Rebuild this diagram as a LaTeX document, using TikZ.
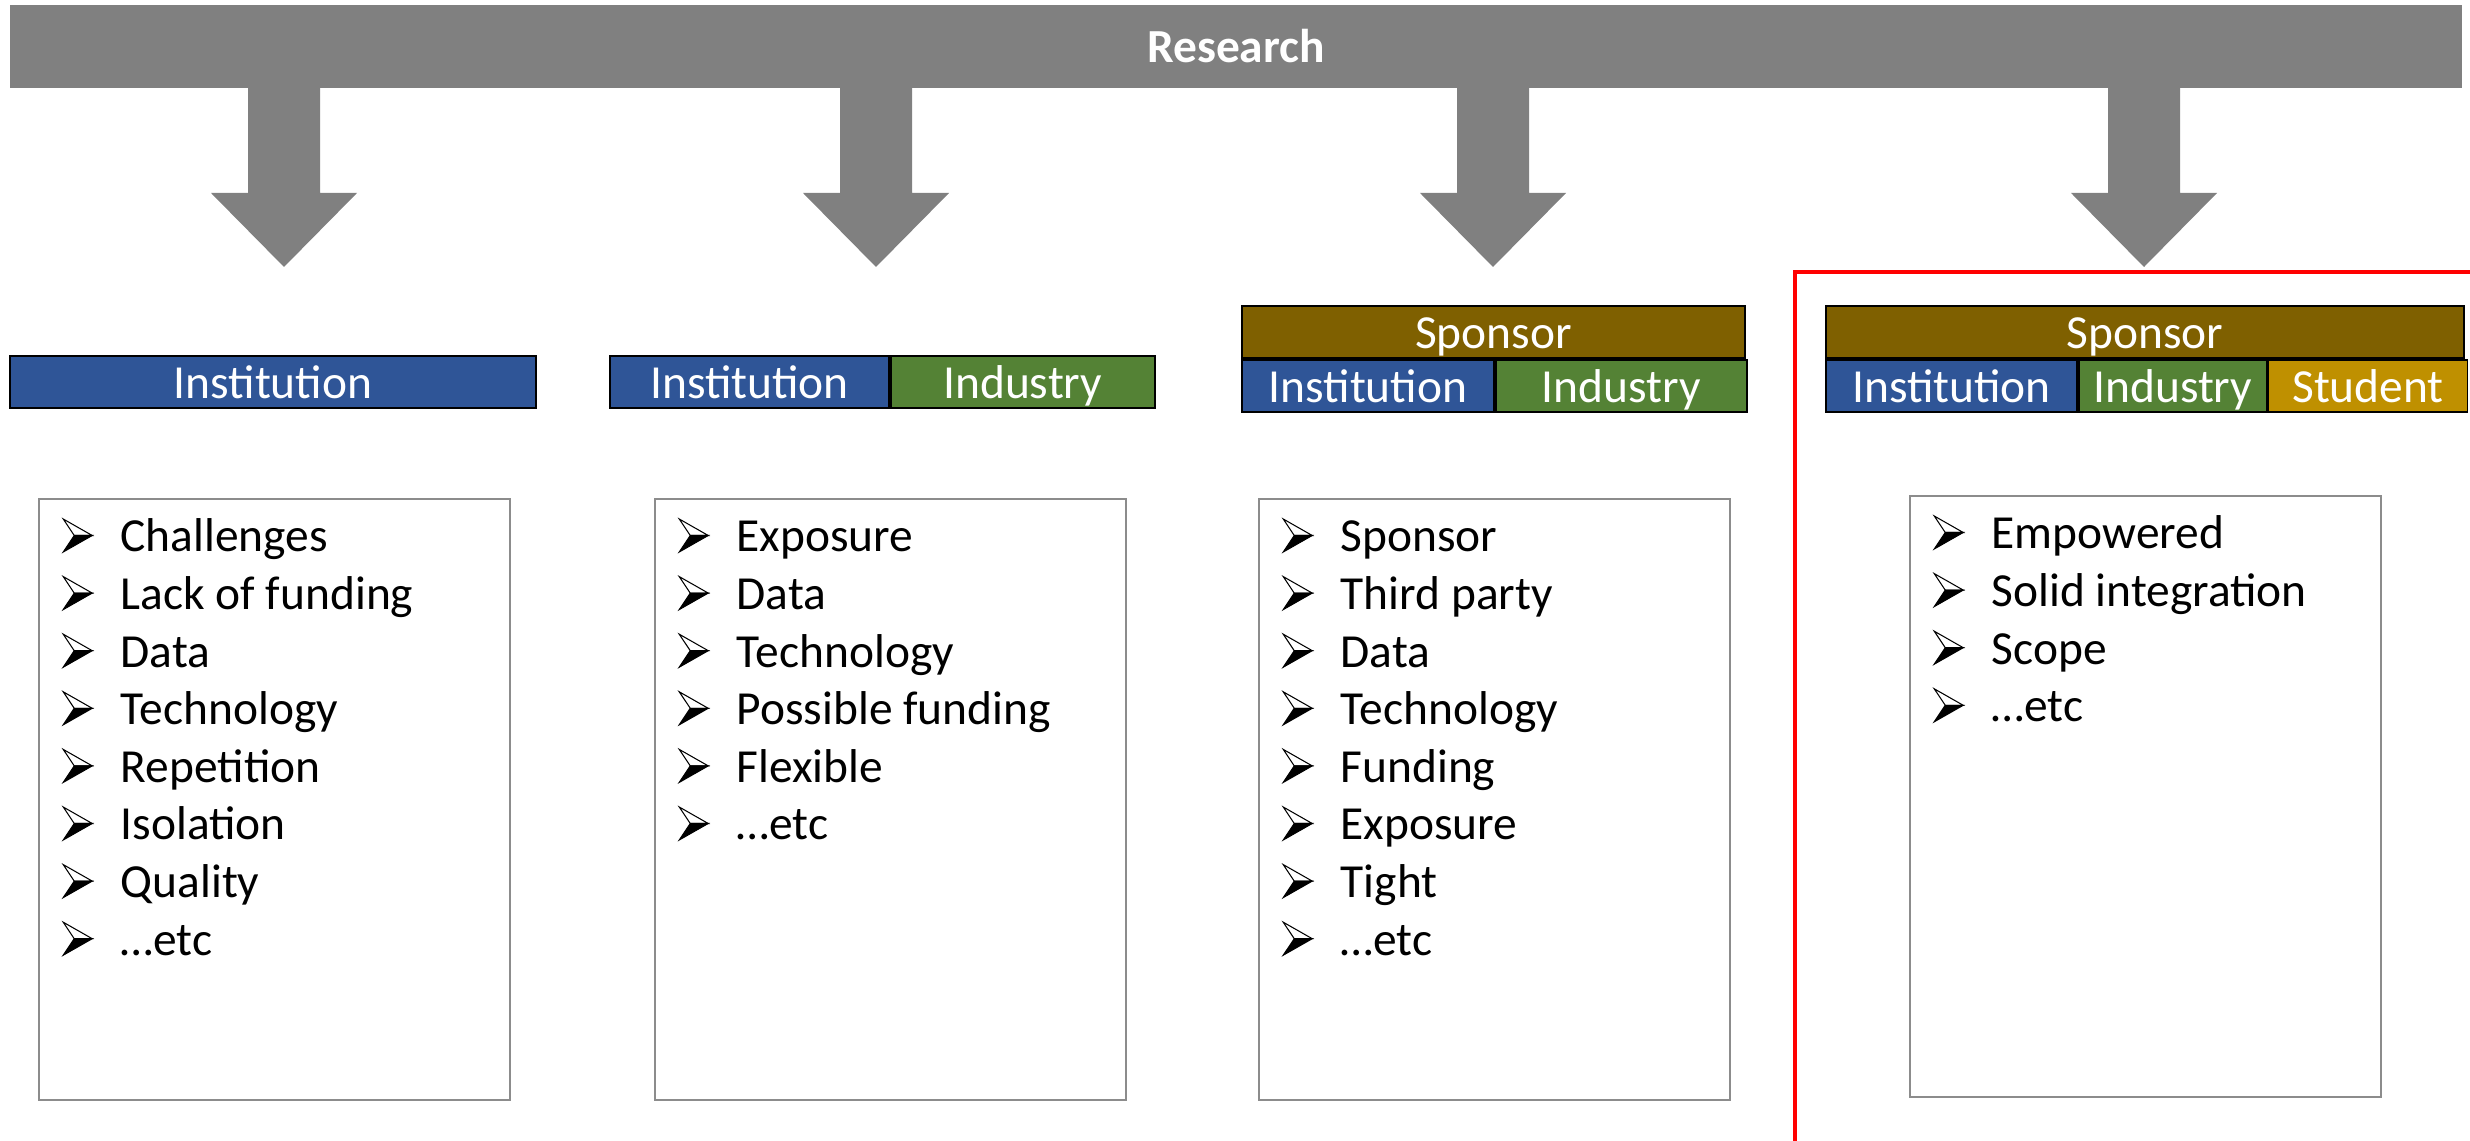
\documentclass[tikz,border=0pt]{standalone}
\usepackage{fontspec}
\setmainfont{Carlito}
\usepackage{tikz}
\usetikzlibrary{positioning}

\definecolor{bargray}{HTML}{808080}
\definecolor{instblue}{HTML}{2F5597}
\definecolor{indgreen}{HTML}{548235}
\definecolor{sponsorbrown}{HTML}{7F6000}
\definecolor{studentgold}{HTML}{BF9000}
\definecolor{listgray}{HTML}{8C8C8C}

\newcommand{\bul}{\makebox[0.58cm][l]{\tikz[baseline=0pt, x=0.29cm, y=0.33cm, line join=miter]{%
    \filldraw[black, line width=0.3pt] (0,0) -- (1,0.5) -- (0.38,0.5) -- cycle;
    \draw[black, line width=0.3pt] (0.38,0.5) -- (1,0.5) -- (0,1) -- cycle;}}}

\tikzset{
    cell/.style={draw=black, line width=0.5pt, text=white, inner sep=0pt,
        minimum height=0.52cm, text height=0.34cm, text depth=0pt,
        font=\fontsize{13.5}{15}\selectfont},
    listbox/.style={draw=listgray, line width=0.5pt, fill=white,
        minimum width=4.71cm, minimum height=6.01cm, anchor=north west},
    entry/.style={inner sep=0pt, anchor=base west, font=\fontsize{13.5}{15}\selectfont},
}

\begin{document}
\begin{tikzpicture}
    %%Background
    \useasboundingbox[fill=white] (0,0) rectangle (24.70,-11.41);

    %%Research bar
    \node[fill=bargray, minimum width=24.52cm, minimum height=0.83cm, inner sep=0pt,
        text height=0.32cm, text depth=0pt, text=white,
        font=\fontsize{13.5}{15}\selectfont\bfseries] (research) at (12.36,-0.465) {Research};
    \foreach \x in {2.84,8.76,14.93,21.44}
        \fill[bargray] ({\x-0.36},-0.87) -- ({\x-0.36},-1.93) -- ({\x-0.73},-1.93) -- (\x,-2.67)
            -- ({\x+0.73},-1.93) -- ({\x+0.36},-1.93) -- ({\x+0.36},-0.87) -- cycle;

    %%Partners
    \node[cell, fill=instblue, minimum width=5.26cm] (inst1) at (2.73,-3.82) {Institution};

    \node[cell, fill=instblue, minimum width=2.79cm] (inst2) at (7.495,-3.82) {Institution};
    \node[cell, fill=indgreen, minimum width=2.64cm, anchor=west] (ind2) at (inst2.east) {Industry};

    \node[cell, fill=sponsorbrown, minimum width=5.03cm] (spon3) at (14.935,-3.32) {Sponsor};
    \node[cell, fill=instblue, minimum width=2.52cm, anchor=north west] (inst3) at (spon3.south west) {Institution};
    \node[cell, fill=indgreen, minimum width=2.51cm, anchor=west] (ind3) at (inst3.east) {Industry};

    \node[cell, fill=sponsorbrown, minimum width=6.38cm] (spon4) at (21.45,-3.32) {Sponsor};
    \node[cell, fill=instblue, minimum width=2.51cm, anchor=north west] (inst4) at (spon4.south west) {Institution};
    \node[cell, fill=indgreen, minimum width=1.88cm, anchor=west] (ind4) at (inst4.east) {Industry};
    \node[cell, fill=studentgold, minimum width=1.99cm, anchor=west] (stud4) at (ind4.east) {Student};

    %%Lists
    \node[listbox] (list1) at (0.38,-4.98) {};
    \node[listbox] (list2) at (6.54,-4.98) {};
    \node[listbox] (list3) at (12.58,-4.98) {};
    \node[listbox] (list4) at (19.09,-4.95) {};

    \foreach \t [count=\i] in {Challenges, Lack of funding, Data, Technology, Repetition, Isolation, Quality, \dots etc}
        \node[entry] (a\i) at (0.62,{-5.52-0.576*(\i-1)}) {\bul\t};
    \foreach \t [count=\i] in {Exposure, Data, Technology, Possible funding, Flexible, \dots etc}
        \node[entry] (b\i) at (6.78,{-5.52-0.576*(\i-1)}) {\bul\t};
    \foreach \t [count=\i] in {Sponsor, Third party, Data, Technology, Funding, Exposure, Tight, \dots etc}
        \node[entry] (c\i) at (12.82,{-5.52-0.576*(\i-1)}) {\bul\t};
    \foreach \t [count=\i] in {Empowered, Solid integration, Scope, \dots etc}
        \node[entry] (d\i) at (19.33,{-5.49-0.576*(\i-1)}) {\bul\t};

    %%Highlight
    \draw[red, line width=1.4pt] (17.95,-2.72) rectangle (24.90,-11.43);
\end{tikzpicture}
\end{document}
